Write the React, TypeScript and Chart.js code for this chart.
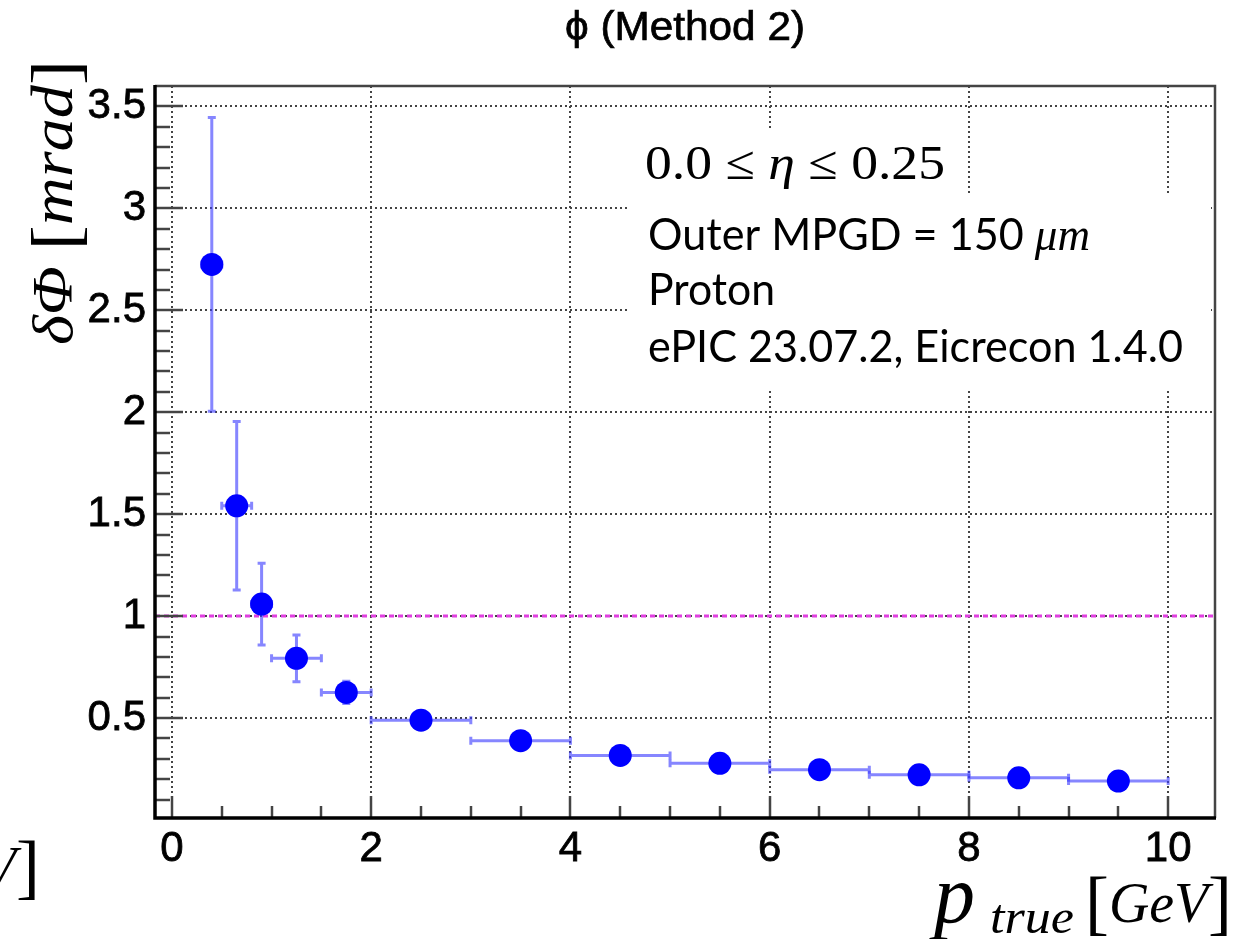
import React, { useEffect, useRef } from "react";
import { Chart, registerables } from "chart.js";

Chart.register(...registerables);

// ---- data ----
const pTrue = [0.4, 0.65, 0.9, 1.25, 1.75, 2.5, 3.5, 4.5, 5.5, 6.5, 7.5, 8.5, 9.5];
const binLow = [0.3, 0.5, 0.8, 1.0, 1.5, 2, 3, 4, 5, 6, 7, 8, 9];
const binHigh = [0.5, 0.8, 1.0, 1.5, 2.0, 3, 4, 5, 6, 7, 8, 9, 10];
const dPhi = [2.725, 1.541, 1.059, 0.793, 0.626, 0.49, 0.389, 0.317, 0.278, 0.247, 0.222, 0.207, 0.191];
const dPhiErr = [0.72, 0.413, 0.2, 0.115, 0.055, 0.012, 0.008, 0.006, 0.005, 0.004, 0.004, 0.003, 0.003];

const xTicks = [0, 2, 4, 6, 8, 10];
const xTickLabels = ["0", "2", "4", "6", "8", "10"];
const yTicks = [0.5, 1, 1.5, 2, 2.5, 3, 3.5];
const yTickLabels = ["0.5", "1", "1.5", "2", "2.5", "3", "3.5"];
const refLine = 1.0;

const titleText = "ϕ (Method 2)";
const etaText = ["0.0 ≤ ", "η", " ≤ 0.25"];
const infoLine1 = ["Outer MPGD = 150 ", "μm"];
const infoLine2 = "Proton";
const infoLine3 = "ePIC 23.07.2, Eicrecon 1.4.0";

const X_MIN = -0.17;
const X_MAX = 10.47;
const Y_MIN = 0.01;
const Y_MAX = 3.6;

type Piece = { t: string; f: string };

function drawPieces(
  ctx: CanvasRenderingContext2D,
  pieces: Piece[],
  x: number,
  y: number,
  width?: number,
  dy?: number[],
  stroke?: number
) {
  let total = 0;
  const ws = pieces.map((p) => {
    ctx.font = p.f;
    const w = ctx.measureText(p.t).width;
    total += w;
    return w;
  });
  const s = width ? width / total : 1;
  ctx.save();
  ctx.translate(x, y);
  ctx.scale(s, 1);
  ctx.textAlign = "left";
  ctx.textBaseline = "alphabetic";
  ctx.fillStyle = "#000";
  ctx.strokeStyle = "#000";
  let cx = 0;
  pieces.forEach((p, i) => {
    ctx.font = p.f;
    ctx.fillText(p.t, cx, dy ? dy[i] : 0);
    if (stroke) {
      ctx.lineWidth = stroke;
      ctx.strokeText(p.t, cx, dy ? dy[i] : 0);
    }
    cx += ws[i];
  });
  ctx.restore();
}

const SERIF = '"Liberation Serif", "DejaVu Serif", serif';
const SANS = '"Liberation Sans", Arial, sans-serif';
const CAL = 'Lato, "Open Sans", sans-serif';

const rootPlugin = {
  id: "rootStyle",
  beforeDatasetsDraw(chart: any) {
    const { ctx, chartArea: a, scales } = chart;
    const xs = scales.x;
    const ys = scales.y;
    ctx.save();
    // grid
    ctx.setLineDash([2, 3]);
    ctx.strokeStyle = "#444";
    ctx.lineWidth = 2;
    xTicks.forEach((v) => {
      const px = Math.round(xs.getPixelForValue(v));
      ctx.beginPath();
      ctx.moveTo(px, a.top);
      ctx.lineTo(px, a.bottom);
      ctx.stroke();
    });
    yTicks.forEach((v) => {
      const py = Math.round(ys.getPixelForValue(v));
      ctx.beginPath();
      ctx.moveTo(a.left, py);
      ctx.lineTo(a.right, py);
      ctx.stroke();
    });
    // reference line
    ctx.setLineDash([5, 4]);
    ctx.strokeStyle = "#e040e0";
    ctx.lineWidth = 3;
    const py1 = Math.round(ys.getPixelForValue(refLine));
    ctx.beginPath();
    ctx.moveTo(a.left, py1);
    ctx.lineTo(a.right, py1);
    ctx.stroke();
    ctx.setLineDash([]);
    // white text boxes
    ctx.fillStyle = "#fff";
    ctx.fillRect(627, 130, 333, 64);
    ctx.fillRect(627, 193, 584, 197);
    // ticks inside frame
    ctx.strokeStyle = "#444";
    ctx.lineWidth = 2.5;
    for (let k = 1; k <= 35; k++) {
      const v = k / 10;
      const py = Math.round(ys.getPixelForValue(v));
      const major = k % 5 === 0;
      ctx.beginPath();
      ctx.moveTo(a.left, py);
      ctx.lineTo(a.left + (major ? 28 : 15), py);
      ctx.stroke();
    }
    for (let k = 0; k <= 20; k++) {
      const v = k / 2;
      const px = Math.round(xs.getPixelForValue(v));
      const major = k % 4 === 0;
      ctx.beginPath();
      ctx.moveTo(px, a.bottom);
      ctx.lineTo(px, a.bottom - (major ? 22 : 12));
      ctx.stroke();
    }
    // frame
    ctx.strokeStyle = "#444";
    ctx.lineWidth = 2.5;
    ctx.beginPath();
    ctx.moveTo(a.left, a.top);
    ctx.lineTo(a.right, a.top);
    ctx.lineTo(a.right, a.bottom);
    ctx.stroke();
    ctx.strokeStyle = "#000";
    ctx.lineWidth = 3.5;
    ctx.beginPath();
    ctx.moveTo(a.left, a.top - 1);
    ctx.lineTo(a.left, a.bottom);
    ctx.lineTo(a.right + 1, a.bottom);
    ctx.stroke();
    // error bars
    ctx.strokeStyle = "rgba(60,60,255,0.62)";
    ctx.lineWidth = 3;
    pTrue.forEach((xv, i) => {
      const px = xs.getPixelForValue(xv);
      const py = ys.getPixelForValue(dPhi[i]);
      const pl = xs.getPixelForValue(binLow[i]);
      const ph = xs.getPixelForValue(binHigh[i]);
      const pu = ys.getPixelForValue(dPhi[i] + dPhiErr[i]);
      const pd = ys.getPixelForValue(dPhi[i] - dPhiErr[i]);
      ctx.beginPath();
      ctx.moveTo(pl, py);
      ctx.lineTo(ph, py);
      ctx.moveTo(px, pu);
      ctx.lineTo(px, pd);
      // caps
      ctx.moveTo(pl, py - 4);
      ctx.lineTo(pl, py + 4);
      ctx.moveTo(ph, py - 4);
      ctx.lineTo(ph, py + 4);
      ctx.moveTo(px - 4, pu);
      ctx.lineTo(px + 4, pu);
      ctx.moveTo(px - 4, pd);
      ctx.lineTo(px + 4, pd);
      ctx.stroke();
    });
    ctx.restore();
  },
  afterDraw(chart: any) {
    const ctx: CanvasRenderingContext2D = chart.ctx;
    ctx.save();
    // title
    drawPieces(ctx, [{ t: titleText, f: `40px ${SANS}` }], 565, 40, 240, undefined, 0.7);
    // y title (rotated)
    ctx.save();
    ctx.translate(72, 345);
    ctx.rotate(-Math.PI / 2);
    drawPieces(
      ctx,
      [
        { t: "δΦ", f: `italic 58px ${SERIF}` },
        { t: " ", f: `58px ${SERIF}` },
        { t: "[", f: `68px ${SERIF}` },
        { t: "mrad", f: `italic 60px ${SERIF}` },
        { t: "]", f: `68px ${SERIF}` },
      ],
      0,
      0,
      285,
      [0, 0, 6, 0, 6]
    );
    ctx.restore();
    // x title
    drawPieces(ctx, [{ t: "p", f: `italic 82px ${SERIF}` }], 934, 922);
    drawPieces(ctx, [{ t: "true", f: `italic 48px ${SERIF}` }], 990, 933, 84);
    const geV: Piece[] = [
      { t: "[", f: `72px ${SERIF}` },
      { t: "GeV", f: `italic 56px ${SERIF}` },
      { t: "]", f: `72px ${SERIF}` },
    ];
    drawPieces(ctx, geV, 1085, 922, 147, [4, 0, 4]);
    // cut-off label at left edge
    drawPieces(ctx, geV, 40 - 147, 886, 147, [4, 0, 4]);
    // annotations
    drawPieces(
      ctx,
      [
        { t: etaText[0], f: `48px ${SERIF}` },
        { t: etaText[1], f: `italic 48px ${SERIF}` },
        { t: etaText[2], f: `48px ${SERIF}` },
      ],
      645,
      179,
      300
    );
    drawPieces(
      ctx,
      [
        { t: infoLine1[0], f: `44px ${CAL}` },
        { t: infoLine1[1], f: `italic 46px ${SERIF}` },
      ],
      648,
      250,
      442
    );
    drawPieces(ctx, [{ t: infoLine2, f: `44px ${CAL}` }], 648, 305, 127);
    drawPieces(ctx, [{ t: infoLine3, f: `44px ${CAL}` }], 648, 362, 535);
    ctx.restore();
  },
};

export default function App() {
  const ref = useRef<HTMLCanvasElement>(null);
  useEffect(() => {
    if (!ref.current) return;
    const chart = new Chart(ref.current, {
      type: "scatter",
      data: {
        datasets: [
          {
            data: pTrue.map((x, i) => ({ x, y: dPhi[i] })),
            backgroundColor: "#0000ff",
            borderWidth: 0,
            pointRadius: 11.5,
            pointHoverRadius: 11.5,
          },
        ],
      },
      options: {
        responsive: false,
        animation: false,
        devicePixelRatio: 1,
        events: [],
        layout: { padding: { left: 0, top: 86, right: 35, bottom: 0 } },
        plugins: {
          legend: { display: false },
          tooltip: { enabled: false },
          title: { display: false },
        },
        scales: {
          x: {
            type: "linear",
            min: X_MIN,
            max: X_MAX,
            afterBuildTicks: (s: any) => {
              s.ticks = xTicks.map((v) => ({ value: v }));
            },
            afterFit: (s: any) => {
              s.height = 939 - 818;
            },
            ticks: {
              callback: (_v: any, i: number) => xTickLabels[i],
              font: { family: "Liberation Sans", size: 42 },
              color: "#000",
              textStrokeColor: "#000",
              textStrokeWidth: 0.8,
              padding: 6,
              maxRotation: 0,
              autoSkip: false,
            },
            grid: { display: false, drawTicks: false },
            border: { display: false },
          },
          y: {
            type: "linear",
            min: Y_MIN,
            max: Y_MAX,
            afterBuildTicks: (s: any) => {
              s.ticks = yTicks.map((v) => ({ value: v }));
            },
            afterFit: (s: any) => {
              s.width = 155;
            },
            ticks: {
              callback: (_v: any, i: number) => yTickLabels[i],
              font: { family: "Liberation Sans", size: 42 },
              color: "#000",
              textStrokeColor: "#000",
              textStrokeWidth: 0.8,
              padding: 9,
              autoSkip: false,
            },
            grid: { display: false, drawTicks: false },
            border: { display: false },
          },
        },
      },
      plugins: [rootPlugin],
    } as any);
    return () => chart.destroy();
  }, []);
  return (
    <div style={{ position: "absolute", left: 0, top: 0, width: 1250, height: 939, background: "#fff" }}>
      <canvas ref={ref} width={1250} height={939} style={{ display: "block" }} />
    </div>
  );
}
